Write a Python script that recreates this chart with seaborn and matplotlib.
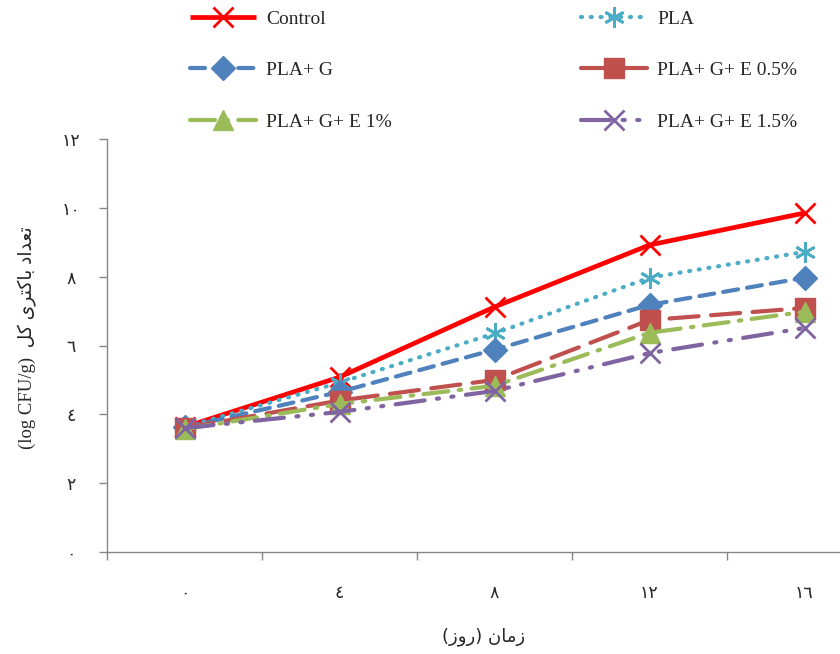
import matplotlib
matplotlib.use("Agg")
import matplotlib.pyplot as plt
import seaborn as sns
import numpy as np

# ---------------- data ----------------
days = [0, 4, 8, 12, 16]
day_labels = ["٠", "٤", "٨", "١٢", "١٦"]
y_ticks = [0, 2, 4, 6, 8, 10, 12]
y_tick_labels = ["٠", "٢", "٤", "٦", "٨", "١٠", "١٢"]

series_names = ["Control", "PLA", "PLA+ G", "PLA+ G+ E 0.5%", "PLA+ G+ E 1%", "PLA+ G+ E 1.5%"]
control = [3.63, 5.08, 7.12, 8.92, 9.85]
pla = [3.63, 4.92, 6.35, 7.97, 8.72]
pla_g = [3.62, 4.65, 5.88, 7.18, 7.97]
pla_g_e05 = [3.60, 4.40, 5.00, 6.74, 7.09]
pla_g_e1 = [3.57, 4.30, 4.83, 6.37, 6.98]
pla_g_e15 = [3.60, 4.07, 4.68, 5.78, 6.51]
series_values = [control, pla, pla_g, pla_g_e05, pla_g_e1, pla_g_e15]

x_label_fa = "زمان (روز)"
y_label_fa = "تعداد باکتری کل"
y_label_en = "(log CFU/g)"

# ---------------- simple Persian shaping (presentation forms) ----------------
FORMS = {  # isolated, final, initial, medial
    "\u0627": ("\uFE8D", "\uFE8E", None, None),
    "\u062F": ("\uFEA9", "\uFEAA", None, None),
    "\u0631": ("\uFEAD", "\uFEAE", None, None),
    "\u0632": ("\uFEAF", "\uFEB0", None, None),
    "\u0648": ("\uFEED", "\uFEEE", None, None),
    "\u0628": ("\uFE8F", "\uFE90", "\uFE91", "\uFE92"),
    "\u062A": ("\uFE95", "\uFE96", "\uFE97", "\uFE98"),
    "\u0639": ("\uFEC9", "\uFECA", "\uFECB", "\uFECC"),
    "\u0644": ("\uFEDD", "\uFEDE", "\uFEDF", "\uFEE0"),
    "\u0645": ("\uFEE1", "\uFEE2", "\uFEE3", "\uFEE4"),
    "\u0646": ("\uFEE5", "\uFEE6", "\uFEE7", "\uFEE8"),
    "\u06A9": ("\uFB8E", "\uFB8F", "\uFB90", "\uFB91"),
    "\u06CC": ("\uFBFC", "\uFBFD", "\uFBFE", "\uFBFF"),
}


def rtl(s):
    out = []
    for i, c in enumerate(s):
        f = FORMS.get(c)
        if f is None:
            out.append(c)
            continue
        prev = s[i - 1] if i > 0 else None
        nxt = s[i + 1] if i + 1 < len(s) else None
        jp = prev in FORMS and FORMS[prev][2] is not None
        jn = nxt in FORMS and f[2] is not None
        if jp and jn:
            out.append(f[3])
        elif jp:
            out.append(f[1])
        elif jn:
            out.append(f[2])
        else:
            out.append(f[0])
    vis = "".join(reversed(out))
    return vis.translate(str.maketrans("()", ")("))


# ---------------- style ----------------
sns.set_style("white")
plt.rcParams["font.family"] = ["Liberation Serif", "DejaVu Sans"]

colors = ["#FF0000", "#4BACC6", "#4F81BD", "#C0504D", "#9BBB59", "#8064A2"]
markers = ["x", (6, 2, 0), "D", "s", "^", "x"]
msizes = [15, 15, 12.5, 14, 14, 15]
mews = [2.0, 2.0, 1, 1, 1, 2.0]
lws = [3.4, 3.0, 3.0, 3.0, 3.0, 3.0]
dashes = [None, (0.25, 2.1), (3.6, 2.2), (7, 3), (6, 2.5, 0.6, 2.5), (7, 3, 0.5, 3, 0.5, 3)]
caps = ["butt", "round", "round", "round", "round", "round"]

fig = plt.figure(figsize=(8.4, 6.54), dpi=100)
W, H = 840, 654
ax_left, ax_right, ax_top, ax_bottom = 107, 882, 139, 552
ax = fig.add_axes([ax_left / W, 1 - ax_bottom / H, (ax_right - ax_left) / W, (ax_bottom - ax_top) / H])

for name, vals, c, m, ms, mew, lw, d, cap in zip(series_names, series_values, colors, markers,
                                                msizes, mews, lws, dashes, caps):
    sns.lineplot(x=days, y=vals, ax=ax, color=c, marker=m, markersize=ms,
                 markeredgecolor=c, markeredgewidth=mew, linewidth=lw, label=name, legend=False)
    ln = ax.lines[-1]
    if d is not None:
        ln.set_dashes(d)
    ln.set_dash_capstyle(cap)
    ln.set_solid_capstyle("butt")

ax.set_xlim(-2, 18)
ax.set_ylim(0, 12)

spine_c = "#868686"
for s in ["top", "right"]:
    ax.spines[s].set_visible(False)
for s in ["left", "bottom"]:
    ax.spines[s].set_color(spine_c)
    ax.spines[s].set_linewidth(1.0)

ax.set_xticks(days)
ax.set_xticklabels(day_labels, family=["DejaVu Sans"], fontsize=12.5)
ax.set_xticks([-2, 2, 6, 10, 14, 18], minor=True)
ax.tick_params(axis="x", which="both", bottom=True)
ax.tick_params(axis="x", which="major", length=0, pad=23)
ax.tick_params(axis="x", which="minor", length=6, width=1, color=spine_c, direction="out")

ax.set_yticks(y_ticks)
ax.set_yticklabels(y_tick_labels, family=["DejaVu Sans"], fontsize=12.5)
ax.tick_params(axis="y", which="major", left=True, length=6, width=1, color=spine_c,
               direction="out", pad=20)
for lab in ax.get_yticklabels():
    lab.set_horizontalalignment("center")
ax.set_xlabel("")
ax.set_ylabel("")

# axis titles
fig.text(484 / W, 1 - 637 / H, rtl(x_label_fa), ha="center", va="center",
         fontsize=13, family=["DejaVu Sans"])
fig.text(27 / W, 1 - 338 / H, y_label_en + "  " + rtl(y_label_fa), ha="center", va="center",
         rotation=90, fontsize=13.5, family=["Liberation Serif", "DejaVu Sans"])

# legend (two columns, row-major order like the reference)
handles = ax.lines[:6]
order = [0, 2, 4, 1, 3, 5]
fig.legend([handles[i] for i in order], [series_names[i] for i in order],
           ncol=2, loc="upper left", bbox_to_anchor=(190 / W, 1 - 10 / H),
           frameon=False, handlelength=3.4, handletextpad=0.5,
           columnspacing=9.75, labelspacing=1.75, borderpad=0, borderaxespad=0, numpoints=1,
           prop={"family": "Liberation Serif", "size": 14})

fig.savefig("out.png", dpi=100)
